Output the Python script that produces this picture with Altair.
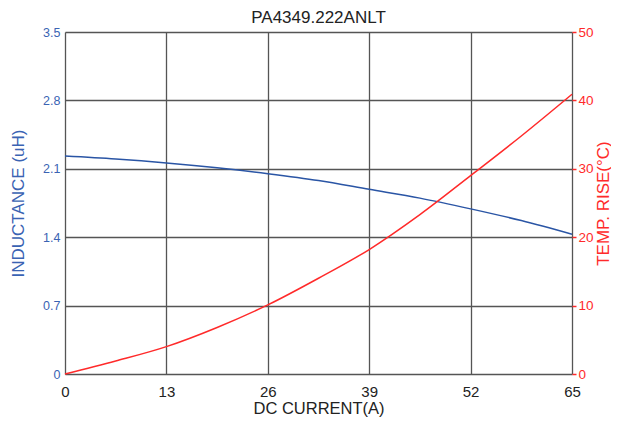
import altair as alt
import pandas as pd

current = [0, 6.5, 13, 19.5, 26, 32.5, 39, 45.5, 52, 58.5, 65]
inductance = [2.23, 2.20, 2.16, 2.11, 2.05, 1.98, 1.89, 1.80, 1.69, 1.57, 1.43]
temp_rise = [0, 1.9, 4.0, 6.8, 10.1, 14.0, 18.2, 23.3, 29.0, 34.8, 40.9]

x_ticks = [0, 13, 26, 39, 52, 65]
l_ticks = [0, 0.7, 1.4, 2.1, 2.8, 3.5]
r_ticks = [0, 10, 20, 30, 40, 50]

BLUE_TXT = "#3a63b3"
BLUE_LINE = "#2a55a5"
RED = "#ff2a2a"
FONT = "Liberation Sans"
W, H = 507, 342

df = pd.DataFrame({"current": current, "inductance": inductance, "temp": temp_rise})

x_enc = alt.X(
    "current:Q",
    scale=alt.Scale(domain=[0, 65], nice=False, zero=False),
    axis=alt.Axis(
        values=x_ticks, title="DC CURRENT(A)", grid=True, gridColor="#555555",
        gridWidth=1.3, ticks=False, domain=False, labelColor="#222222",
        labelFontSize=15, labelPadding=10, labelFlush=False,
        titleFontSize=16.5, titleColor="#222222", titleFontWeight="normal",
        titleX=W / 2, titleY=34, titleBaseline="middle", titleAlign="center",
        labelFont=FONT, titleFont=FONT,
    ),
)

left = alt.Chart(df).mark_line(color=BLUE_LINE, strokeWidth=1.5, interpolate="monotone").encode(
    x=x_enc,
    y=alt.Y(
        "inductance:Q",
        scale=alt.Scale(domain=[0, 3.5], nice=False),
        axis=alt.Axis(
            values=l_ticks, title="INDUCTANCE (uH)", orient="left", grid=True,
            gridColor="#555555", gridWidth=1.3, ticks=False, domain=False,
            labelColor=BLUE_TXT, labelFontSize=12.5, labelPadding=5, labelFlush=False,
            labelExpr="datum.value == 0 ? '0' : format(datum.value, '.1f')",
            titleColor=BLUE_TXT, titleFontSize=17, titleFontWeight="normal",
            titleX=-47, titleY=H / 2, titleAngle=270, titleBaseline="middle",
            titleAlign="center", labelFont=FONT, titleFont=FONT,
        ),
    ),
)

right = alt.Chart(df).mark_line(color=RED, strokeWidth=1.5, interpolate="monotone").encode(
    x=x_enc,
    y=alt.Y(
        "temp:Q",
        scale=alt.Scale(domain=[0, 50], nice=False),
        axis=alt.Axis(
            values=r_ticks, title="TEMP. RISE(°C)", orient="right", grid=False,
            ticks=True, tickColor=RED, tickSize=4, tickWidth=1.5, domain=False,
            labelColor=RED, labelFontSize=13.5, labelPadding=2, labelFlush=False,
            titleColor=RED, titleFontSize=17, titleFontWeight="normal",
            titleAngle=270, titleX=31, titleY=H / 2, titleBaseline="middle",
            titleAlign="center", labelFont=FONT, titleFont=FONT,
        ),
    ),
)

chart = (
    alt.layer(left, right)
    .resolve_scale(y="independent")
    .properties(
        width=W,
        height=H,
        title=alt.TitleParams(
            "PA4349.222ANLT", fontSize=17, font=FONT, fontWeight="normal",
            color="#222222", anchor="middle", offset=6, dy=8,
        ),
        autosize=alt.AutoSizeParams(type="none"),
        padding={"left": 57, "top": 24, "right": 39, "bottom": 50},
    )
    .configure_view(stroke="#111111", strokeWidth=1.3)
    .configure(background="white")
)

chart.save("out.html", embed_options={"renderer": "svg", "actions": False})
